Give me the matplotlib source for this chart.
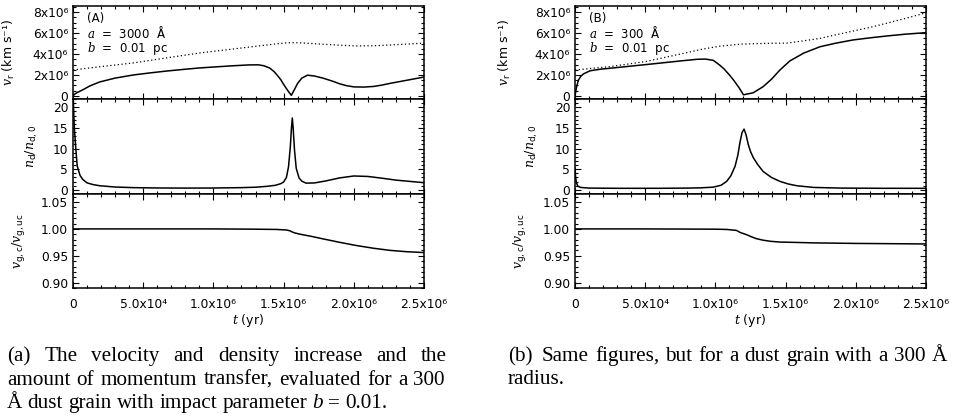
import numpy as np
import matplotlib.pyplot as plt
from matplotlib.ticker import MultipleLocator, FixedLocator

plt.rcParams['font.family'] = ['DejaVu Sans']
plt.rcParams['mathtext.fontset'] = 'custom'
plt.rcParams['mathtext.rm'] = 'DejaVu Sans'
plt.rcParams['mathtext.it'] = 'DejaVu Serif:italic'
plt.rcParams['mathtext.bf'] = 'DejaVu Sans:bold'

# time in units of 1e6 yr, velocities in units of 1e6 km/s
# ---- panel A (a = 3000 A)
tA_v = [0, 0.01, 0.03, 0.07, 0.12, 0.19, 0.3, 0.43, 0.55, 0.67, 0.8, 0.9, 1.0, 1.14, 1.25,
        1.32, 1.36, 1.40, 1.43, 1.45, 1.48, 1.50, 1.53, 1.555, 1.575, 1.60, 1.63, 1.67, 1.72,
        1.78, 1.85, 1.9, 1.95, 2.0, 2.07, 2.14, 2.2, 2.26, 2.32, 2.38, 2.44, 2.5]
vA = [0, 0.15, 0.32, 0.58, 0.95, 1.33, 1.7, 2.0, 2.2, 2.38, 2.55, 2.67, 2.76, 2.88, 2.96,
      2.97, 2.88, 2.67, 2.35, 2.05, 1.55, 1.1, 0.5, 0.05, 0.55, 1.2, 1.7, 1.98, 1.9,
      1.7, 1.4, 1.15, 0.97, 0.86, 0.84, 0.9, 1.03, 1.2, 1.35, 1.5, 1.65, 1.8]
tA_vd = [0, 0.2, 0.43, 0.65, 0.9, 1.15, 1.38, 1.5, 1.56, 1.65, 1.78, 1.9, 2.02, 2.15, 2.26, 2.4, 2.5]
vA_d = [2.48, 2.8, 3.15, 3.6, 4.1, 4.5, 4.87, 5.05, 5.1, 5.05, 4.94, 4.85, 4.78, 4.8, 4.87, 4.97, 5.05]

tA_n = [0, 0.004, 0.01, 0.02, 0.03, 0.05, 0.07, 0.1, 0.14, 0.19, 0.3, 0.43, 0.6, 0.8, 1.0, 1.2,
        1.3, 1.38, 1.44, 1.48, 1.50, 1.52, 1.535, 1.548, 1.556, 1.562, 1.568, 1.578, 1.59,
        1.61, 1.63, 1.66, 1.72, 1.8, 1.9, 2.0, 2.1, 2.2, 2.3, 2.4, 2.5]
nA = [24, 19.9, 14.7, 10.0, 5.8, 3.5, 2.5, 1.7, 1.3, 1.0, 0.69, 0.54, 0.46, 0.43, 0.45, 0.54,
      0.64, 0.85, 1.1, 1.5, 1.9, 3.0, 5.6, 10.5, 15.0, 17.4, 15.0, 9.5, 5.2,
      2.9, 2.1, 1.63, 1.68, 2.16, 2.9, 3.36, 3.25, 2.83, 2.36, 2.05, 1.74]

tA_r = [0, 0.5, 1.0, 1.3, 1.45, 1.52, 1.545, 1.56, 1.58, 1.62, 1.7, 1.78, 1.9, 2.02, 2.14, 2.26, 2.38, 2.5]
rA = [1.0, 1.0, 1.0, 0.9995, 0.999, 0.998, 0.9965, 0.9945, 0.9925, 0.990, 0.986, 0.9815,
      0.975, 0.969, 0.964, 0.960, 0.9575, 0.956]

# ---- panel B (a = 300 A)
tB_v = [0, 0.005, 0.012, 0.024, 0.04, 0.06, 0.107, 0.18, 0.27, 0.4, 0.51, 0.63, 0.75, 0.87, 0.93,
        0.985, 1.03, 1.06, 1.10, 1.13, 1.17, 1.20, 1.27, 1.34, 1.40, 1.46, 1.53, 1.63, 1.745,
        1.86, 1.98, 2.1, 2.22, 2.35, 2.5]
vB = [0, 0.4, 0.9, 1.5, 1.85, 2.1, 2.4, 2.55, 2.67, 2.85, 3.0, 3.17, 3.34, 3.5, 3.52,
      3.4, 2.95, 2.6, 2.0, 1.5, 0.75, 0.1, 0.3, 0.88, 1.6, 2.48, 3.34, 4.1, 4.7,
      5.05, 5.35, 5.55, 5.73, 5.9, 6.05]
tB_vd = [0, 0.25, 0.51, 0.75, 0.9, 1.03, 1.18, 1.35, 1.51, 1.62, 1.745, 1.86, 1.98, 2.1, 2.22, 2.35, 2.5]
vB_d = [2.48, 2.8, 3.3, 4.0, 4.45, 4.75, 4.95, 5.02, 5.05, 5.25, 5.5, 5.85, 6.2, 6.55, 6.95, 7.4, 7.95]

tB_n = [0, 0.004, 0.01, 0.02, 0.04, 0.1, 0.3, 0.6, 0.8, 0.9, 0.985, 1.04, 1.08, 1.11, 1.14, 1.16,
        1.175, 1.19, 1.204, 1.218, 1.234, 1.25, 1.27, 1.3, 1.34, 1.4, 1.46, 1.52, 1.58, 1.7,
        1.9, 2.2, 2.5]
nB = [5.3, 3.2, 1.74, 0.9, 0.59, 0.43, 0.38, 0.38, 0.43, 0.5, 0.66, 1.11, 2.05, 3.41, 5.71, 8.43,
      11.5, 13.9, 14.7, 13.4, 11.0, 9.3, 7.8, 6.2, 4.45, 2.99, 2.05, 1.42, 1.0, 0.59,
      0.43, 0.38, 0.38]

tB_r = [0, 0.5, 1.0, 1.08, 1.12, 1.15, 1.18, 1.22, 1.26, 1.29, 1.34, 1.39, 1.46, 1.55, 1.70, 2.0, 2.5]
rB = [1.0, 1.0, 0.9995, 0.999, 0.998, 0.9972, 0.993, 0.9895, 0.985, 0.982, 0.979, 0.977,
      0.9755, 0.975, 0.974, 0.973, 0.972]

xticks = [0, 0.5e6, 1.0e6, 1.5e6, 2.0e6, 2.5e6]
xtick_labels = ['0', '5.0x10⁴', '1.0x10⁶', '1.5x10⁶', '2.0x10⁶', '2.5x10⁶']
vticks = [0, 2e6, 4e6, 6e6, 8e6]
vtick_labels = ['0', '2x10⁶', '4x10⁶', '6x10⁶', '8x10⁶']
rticks = [0.90, 0.95, 1.00, 1.05]
rtick_labels = ['0.90', '0.95', '1.00', '1.05']

W, H = 956, 418
fig = plt.figure(figsize=(W / 100, H / 100), dpi=100)


def px_axes(x0, y0, x1, y1):
    return fig.add_axes([x0 / W, 1 - y1 / H, (x1 - x0) / W, (y1 - y0) / H])


def style(ax):
    ax.tick_params(which='both', direction='in', top=True, right=True, labelsize=8.8,
                   width=0.8, pad=3.5)
    ax.tick_params(which='major', length=4)
    ax.tick_params(which='minor', length=2)
    for s in ax.spines.values():
        s.set_linewidth(1.1)
    ax.set_xlim(0, 2.5e6)
    ax.xaxis.set_major_locator(FixedLocator(xticks))
    ax.xaxis.set_minor_locator(MultipleLocator(1e5))


def panel(x0, x1, tag, size, tv, v, tvd, vd, tn, n, tr, r, labx):
    ax1 = px_axes(x0, 6, x1, 99)
    ax2 = px_axes(x0, 99, x1, 194)
    ax3 = px_axes(x0, 194, x1, 288)
    for ax in (ax1, ax2, ax3):
        style(ax)

    ax1.plot(np.array(tv) * 1e6, np.array(v) * 1e6, color='black', lw=1.1)
    ax1.plot(np.array(tvd) * 1e6, np.array(vd) * 1e6, color='black', lw=0.9,
             linestyle=(0, (1, 2)))
    ax1.set_ylim(-0.3e6, 8.6e6)
    ax1.set_yticks(vticks)
    ax1.set_yticklabels(vtick_labels)
    ax1.yaxis.set_minor_locator(MultipleLocator(0.5e6))
    ax1.tick_params(labelbottom=False)
    ax1.set_ylabel(r'$v_{\mathrm{r}}$ (km s⁻¹)', fontsize=9)
    ax1.yaxis.set_label_coords(labx[0], 0.5)
    ax1.text(0.04, 0.87, tag, transform=ax1.transAxes, fontsize=8.5, va='center')
    ax1.text(0.04, 0.71, r'$a$  =  ' + size + '  Å', transform=ax1.transAxes,
             fontsize=8.5, va='center')
    ax1.text(0.04, 0.54, r'$b$  =  0.01  pc', transform=ax1.transAxes,
             fontsize=8.5, va='center')

    ax2.plot(np.array(tn) * 1e6, n, color='black', lw=1.1)
    ax2.set_ylim(-1, 22)
    ax2.set_yticks([0, 5, 10, 15, 20])
    ax2.yaxis.set_minor_locator(MultipleLocator(1))
    ax2.tick_params(labelbottom=False)
    ax2.set_ylabel(r'$n_{\mathrm{d}}/n_{\mathrm{d,0}}$', fontsize=9)
    ax2.yaxis.set_label_coords(labx[1], 0.5)

    ax3.plot(np.array(tr) * 1e6, r, color='black', lw=1.1)
    ax3.set_ylim(0.89, 1.065)
    ax3.set_yticks(rticks)
    ax3.set_yticklabels(rtick_labels)
    ax3.yaxis.set_minor_locator(MultipleLocator(0.01))
    ax3.set_xticklabels(xtick_labels)
    ax3.tick_params(axis='x', pad=7)
    ax3.set_ylabel(r'$v_{\mathrm{g,c}}/v_{\mathrm{g,uc}}$', fontsize=9)
    ax3.yaxis.set_label_coords(labx[2], 0.5)
    ax3.set_xlabel(r'$t$ (yr)', fontsize=9, labelpad=1)


panel(73, 424, '(A)', '3000', tA_v, vA, tA_vd, vA_d, tA_n, nA, tA_r, rA, (-0.16, -0.094, -0.131))
panel(575, 926, '(B)', '300', tB_v, vB, tB_vd, vB_d, tB_n, nB, tB_r, rB, (-0.177, -0.1, -0.134))

# ---- captions
cap_font = dict(family='Liberation Serif', fontsize=15.2)
renderer = fig.canvas.get_renderer()


def width_of(s, **kw):
    t = fig.text(0, 0, s, **kw)
    w = t.get_window_extent(renderer).width
    t.remove()
    return w


space = width_of('a a', **cap_font) - width_of('aa', **cap_font)


def place_words(words, x0, y, x1=None, first_gap=1.0):
    ws = [width_of(w, fontstyle=st, **cap_font) for w, st in words]
    if x1 is None:
        gap = space
    else:
        gap = (x1 - x0 - sum(ws)) / (len(words) - 1 + (first_gap - 1))
    x = x0
    for i, ((w, st), wd) in enumerate(zip(words, ws)):
        fig.text(x / W, 1 - y / H, w, fontstyle=st, va='baseline', ha='left', **cap_font)
        x += wd + (gap * first_gap if i == 0 else gap)


def plain(s):
    return [(w, 'normal') for w in s.split()]


place_words(plain('(a) The velocity and density increase and the'), 7, 361, 447)
place_words(plain('amount of momentum transfer, evaluated for a 300'), 7, 385, 445)
place_words(plain('Å dust grain with impact parameter') + [('b', 'italic')] + plain('= 0.01.'), 7, 408)
place_words(plain('(b) Same figures, but for a dust grain with a 300 Å'), 508, 361, 947, first_gap=1.6)
place_words(plain('radius.'), 508, 384)

fig.savefig('out.png', dpi=100)
